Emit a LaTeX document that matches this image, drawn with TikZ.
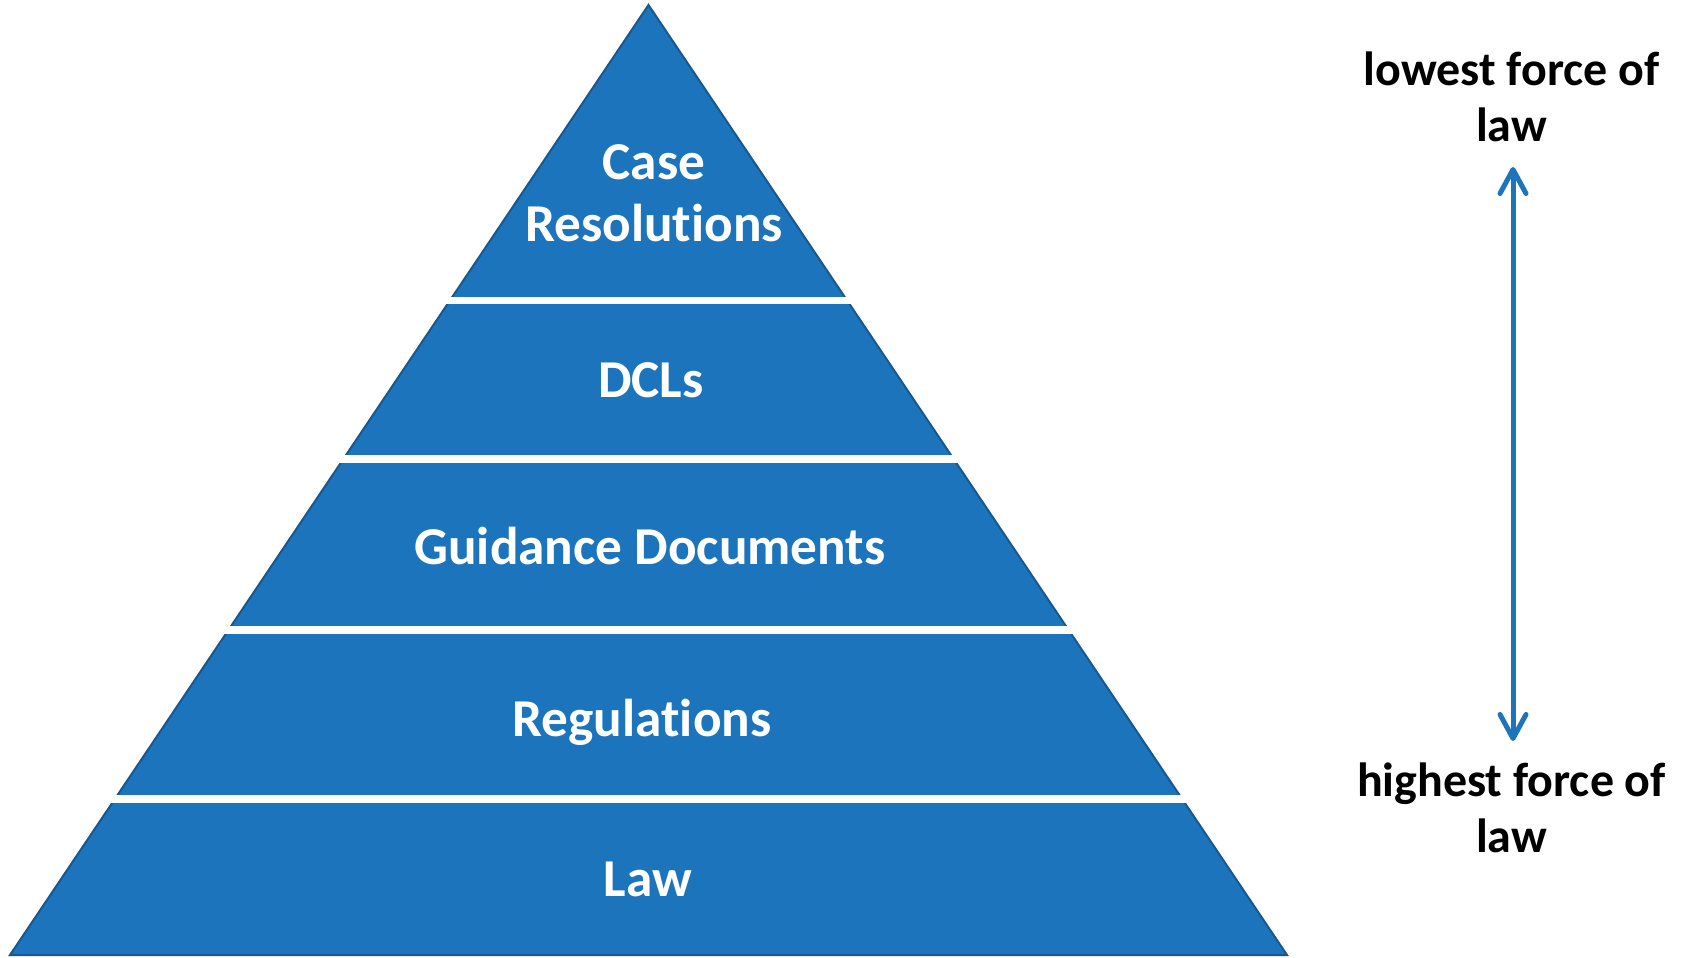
\documentclass[tikz,border=0pt]{standalone}
\usepackage{fontspec}
\setmainfont[Ligatures=NoCommon]{Carlito}
\usepackage{tikz}
\usetikzlibrary{arrows.meta}
\definecolor{pyrblue}{RGB}{28,117,188}
\definecolor{pyredge}{RGB}{24,88,142}

\begin{document}
\begin{tikzpicture}[
    layer/.style={text=white, anchor=base, align=center, font=\bfseries\fontsize{30.3}{35.3}\selectfont},
    side/.style={text=black, anchor=base, align=center, font=\bfseries\fontsize{27.3}{32.4}\selectfont},
    gap/.style={fill=white},
    force/.style={pyrblue, line width=0.1cm,
      {Straight Barb[length=0.48cm,width=0.52cm,round]}-{Straight Barb[length=0.48cm,width=0.52cm,round]}}
  ]
    \useasboundingbox (0cm,0cm) rectangle (33.72cm,19.14cm);
    % the pyramid, cut into five layers by white bars
    \filldraw[fill=pyrblue, draw=pyredge, line width=0.04cm] (0.2cm,0.04cm) -- (12.97cm,19.04cm) -- (25.74cm,0.04cm) -- cycle;
    \fill[gap] (0cm,13.06cm) rectangle (26cm,13.20cm);
    \fill[gap] (0cm, 9.88cm) rectangle (26cm,10.04cm);
    \fill[gap] (0cm, 6.46cm) rectangle (26cm, 6.62cm);
    \fill[gap] (0cm, 3.08cm) rectangle (26cm, 3.24cm);
    % base anchor of a two-line node sits on its last line
    \node[layer] (caseres)  at (13.08cm,14.30cm) {Case\\Resolutions};
    \node[layer] (dcls)     at (13.02cm,11.18cm) {DCLs};
    \node[layer] (guidance) at (13.00cm, 7.84cm) {Guidance Documents};
    \node[layer] (regs)     at (12.84cm, 4.40cm) {Regulations};
    \node[layer] (law)      at (12.96cm, 1.20cm) {Law};
    % force of law, low to high
    \node[side] (lowest)  at (30.23cm,16.30cm) {lowest force of\\law};
    \node[side] (highest) at (30.23cm, 2.08cm) {highest force of\\law};
    \coordinate (lowtip)  at (30.26cm,15.80cm);
    \coordinate (hightip) at (30.26cm, 4.32cm);
    \draw[force] (lowtip) -- (hightip);
  \end{tikzpicture}
\end{document}
